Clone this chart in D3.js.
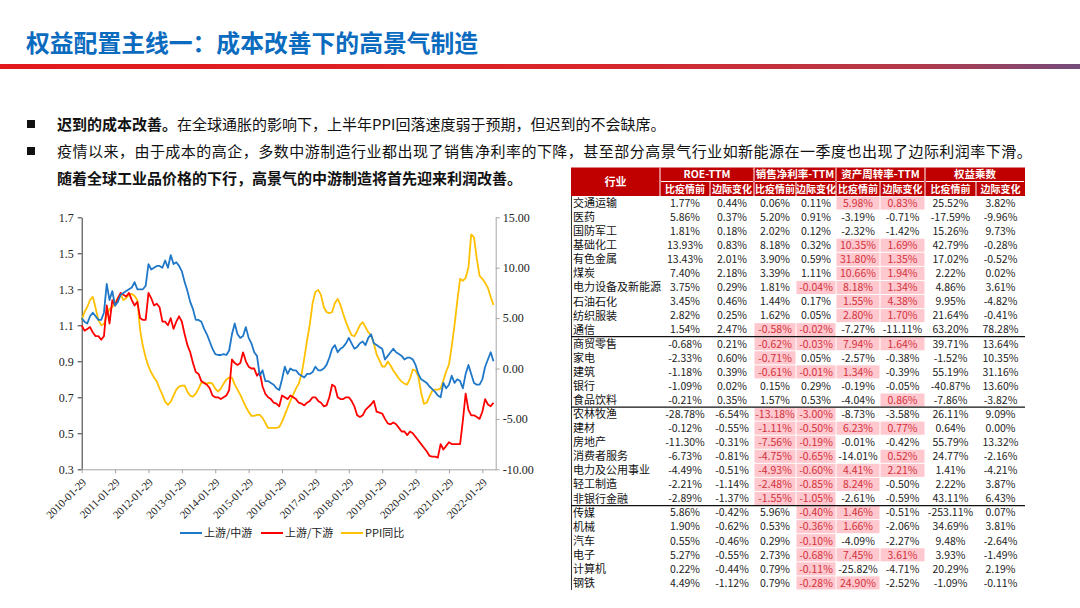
<!DOCTYPE html>
<html><head><meta charset="utf-8">
<script src="https://cdn.jsdelivr.net/npm/d3@7"></script>
<style>body{margin:0;background:#fff}svg{display:block}</style>
</head><body>
<svg id="c" width="1080" height="608"></svg>
<script>
// ---------- DATA ----------
const titleText = "权益配置主线一：成本改善下的高景气制造";
const xTickLabels = ["2010-01-29","2011-01-29","2012-01-29","2013-01-29","2014-01-29","2015-01-29","2016-01-29","2017-01-29","2018-01-29","2019-01-29","2020-01-29","2021-01-29","2022-01-29"];
const leftTicks = [0.3,0.5,0.7,0.9,1.1,1.3,1.5,1.7];
const rightTicks = [-10,-5,0,5,10,15];
const seriesNames = ["上游/中游","上游/下游","PPI同比"];
const upMid = [
 1.14,1.12,1.11,1.15,1.17,1.15,1.13,1.13,1.17,1.33,1.24,1.29,
 1.21,1.23,1.27,1.28,1.29,1.30,1.31,1.34,1.30,1.30,1.30,1.32,
 1.44,1.41,1.42,1.43,1.43,1.42,1.46,1.42,1.49,1.44,1.45,1.43,
 1.40,1.34,1.29,1.23,1.19,1.13,1.13,1.12,1.08,1.05,1.01,0.97,
 0.94,0.935,0.935,0.94,0.935,0.96,1.05,1.11,1.05,1.03,1.04,1.09,
 1.03,1.00,0.95,0.93,0.82,0.85,0.79,0.79,0.78,0.77,0.75,0.74,
 0.80,0.87,0.83,0.86,0.85,0.85,0.83,0.82,0.81,0.83,0.83,0.84,
 0.87,0.85,0.85,0.86,0.88,0.92,0.97,0.99,0.95,0.97,0.98,1.00,
 1.03,1.00,0.97,0.98,1.00,1.01,0.99,1.03,1.05,1.00,0.99,0.98,
 0.97,0.91,0.93,0.95,0.97,0.95,0.94,0.93,0.91,0.92,0.92,0.91,
 0.88,0.83,0.80,0.79,0.78,0.76,0.745,0.73,0.71,0.70,0.78,0.75,
 0.77,0.82,0.78,0.80,0.79,0.75,0.83,0.88,0.83,0.78,0.77,0.77,
 0.80,0.87,0.91,0.95,0.90];
const upDown = [
 1.10,1.07,1.08,1.09,1.06,1.04,1.04,1.02,1.04,1.21,1.11,1.24,
 1.21,1.25,1.28,1.27,1.26,1.28,1.24,1.21,1.23,1.14,1.13,1.13,
 1.28,1.25,1.21,1.22,1.20,1.12,1.12,1.10,1.14,1.08,1.12,1.15,
 1.12,1.05,0.99,0.95,0.89,0.84,0.83,0.79,0.78,0.77,0.75,0.71,
 0.70,0.70,0.69,0.70,0.71,0.74,0.91,0.89,0.88,0.89,0.95,0.90,
 0.87,0.86,0.86,0.82,0.84,0.76,0.72,0.70,0.69,0.67,0.665,0.65,
 0.71,0.70,0.69,0.71,0.70,0.69,0.67,0.665,0.655,0.67,0.68,0.70,
 0.70,0.68,0.67,0.65,0.655,0.70,0.77,0.76,0.70,0.69,0.69,0.70,
 0.70,0.68,0.65,0.60,0.59,0.60,0.63,0.645,0.66,0.68,0.62,0.615,
 0.61,0.58,0.555,0.55,0.56,0.55,0.53,0.51,0.51,0.49,0.51,0.50,
 0.48,0.46,0.44,0.42,0.40,0.375,0.37,0.37,0.365,0.44,0.41,0.43,
 0.45,0.44,0.44,0.44,0.44,0.57,0.72,0.63,0.60,0.60,0.59,0.58,
 0.62,0.69,0.66,0.65,0.67];
const ppi = [
 4.8,5.6,6.1,6.8,7.1,6.0,4.8,4.3,4.4,5.3,5.9,6.1,
 6.5,7.0,7.3,6.8,7.0,7.3,7.4,7.2,6.8,3.8,2.2,1.1,
 0.2,-0.4,-0.9,-1.3,-2.0,-2.6,-3.3,-3.6,-3.3,-2.7,-2.1,-1.8,
 -1.7,-1.7,-2.3,-2.7,-2.8,-2.5,-2.0,-1.4,-1.4,-1.5,-1.4,-1.5,
 -2.0,-2.3,-2.0,-1.5,-1.1,-0.9,-0.9,-1.6,-2.1,-2.6,-3.2,-3.8,
 -4.3,-4.7,-4.7,-4.6,-4.6,-4.9,-5.4,-5.9,-5.9,-5.9,-5.9,-5.8,
 -5.3,-4.6,-3.9,-3.2,-2.6,-2.0,-1.5,-0.6,1.0,2.8,4.4,6.5,
 7.6,7.8,7.3,6.1,5.6,5.5,5.6,6.5,6.9,6.3,5.4,4.6,
 3.9,3.3,3.2,3.7,4.3,4.6,4.1,3.6,3.3,2.5,1.4,0.8,
 0.2,0.2,0.7,0.3,-0.2,-0.6,-1.0,-1.3,-1.5,-1.6,-1.0,-0.1,
 -0.2,-0.8,-2.4,-3.5,-3.4,-2.8,-2.2,-2.1,-2.1,-2.0,-1.2,-0.3,
 0.4,2.2,4.3,6.7,8.9,8.7,9.0,10.0,13.3,13.0,10.9,9.2,
 8.9,8.5,8.0,7.1,6.3];

const industries = ["交通运输","医药","国防军工","基础化工","有色金属","煤炭","电力设备及新能源","石油石化","纺织服装","通信","商贸零售","家电","建筑","银行","食品饮料","农林牧渔","建材","房地产","消费者服务","电力及公用事业","轻工制造","非银行金融","传媒","机械","汽车","电子","计算机","钢铁"];
const groupEnds = [9,14,21];
const roePre = [1.77,5.86,1.81,13.93,13.43,7.40,3.75,3.45,2.82,1.54,-0.68,-2.33,-1.18,-1.09,-0.21,-28.78,-0.12,-11.30,-6.73,-4.49,-2.21,-2.89,5.86,1.90,0.55,5.27,0.22,4.49];
const roeChg = [0.44,0.37,0.18,0.83,2.01,2.18,0.29,0.46,0.25,2.47,0.21,0.60,0.39,0.02,0.35,-6.54,-0.55,-0.31,-0.81,-0.51,-1.14,-1.37,-0.42,-0.62,-0.46,-0.55,-0.44,-1.12];
const npmPre = [0.06,5.20,2.02,8.18,3.90,3.39,1.81,1.44,1.62,-0.58,-0.62,-0.71,-0.61,0.15,1.57,-13.18,-1.11,-7.56,-4.75,-4.93,-2.48,-1.55,5.96,0.53,0.29,2.73,0.79,0.79];
const npmChg = [0.11,0.91,0.12,0.32,0.59,1.11,-0.04,0.17,0.05,-0.02,-0.03,0.05,-0.01,0.29,0.53,-3.00,-0.50,-0.19,-0.65,-0.60,-0.85,-1.05,-0.40,-0.36,-0.10,-0.68,-0.11,-0.28];
const atoPre = [5.98,-3.19,-2.32,10.35,31.80,10.66,8.18,1.55,2.80,-7.27,7.94,-2.57,1.34,-0.19,-4.04,-8.73,6.23,-0.01,-14.01,4.41,8.24,-2.61,1.46,1.66,-4.09,7.45,-25.82,24.90];
const atoChg = [0.83,-0.71,-1.42,1.69,1.35,1.94,1.34,4.38,1.70,-11.11,1.64,-0.38,-0.39,-0.05,0.86,-3.58,0.77,-0.42,0.52,2.21,-0.50,-0.59,-0.51,-2.06,-2.27,3.61,-4.71,-2.52];
const emPre = [25.52,-17.59,15.26,42.79,17.02,2.22,4.86,9.95,21.64,63.20,39.71,-1.52,55.19,-40.87,-7.86,26.11,0.64,55.79,24.77,1.41,2.22,43.11,-253.11,34.69,9.48,3.93,20.29,-1.09];
const emChg = [3.82,-9.96,9.73,-0.28,-0.52,0.02,3.61,-4.82,-0.41,78.28,13.64,10.35,31.16,13.60,-3.82,9.09,0.00,13.32,-2.16,-4.21,3.87,6.43,0.07,3.81,-2.64,-1.49,2.19,-0.11];
const groupHeaders = ["ROE-TTM","销售净利率-TTM","资产周转率-TTM","权益乘数"];
const subHeaders = ["比疫情前","边际变化"];

// ---------- DRAW ----------
const svg = d3.select("#c");
const CJK = "'Noto Sans CJK SC','Noto Sans',sans-serif";
const SERIF = "'Liberation Serif','DejaVu Serif',serif";

// title
svg.append("text").attr("x",26).attr("y",52).text(titleText)
  .attr("font-family",CJK).attr("font-size",23.8).attr("font-weight",700).attr("fill","#0b6bbf");
const grad = svg.append("defs").append("linearGradient").attr("id","bar");
grad.append("stop").attr("offset","0").attr("stop-color","#e3191c");
grad.append("stop").attr("offset","0.55").attr("stop-color","#d8262b");
grad.append("stop").attr("offset","0.85").attr("stop-color","#b23a4a");
grad.append("stop").attr("offset","1").attr("stop-color","#744c7c");
svg.append("rect").attr("x",0).attr("y",64).attr("width",1080).attr("height",5).attr("fill","url(#bar)");

// bullets
const bl = svg.append("g").attr("font-family",CJK).attr("font-size",15).attr("fill","#111");
[124,151].forEach(y=>bl.append("rect").attr("x",27).attr("y",y-4).attr("width",8).attr("height",8).attr("fill","#111"));
const t1 = bl.append("text").attr("x",57).attr("y",129.5);
t1.append("tspan").attr("font-weight",700).text("迟到的成本改善。");
t1.append("tspan").text("在全球通胀的影响下，上半年PPI回落速度弱于预期，但迟到的不会缺席。");
bl.append("text").attr("x",57).attr("y",156.5).attr("letter-spacing",0.48).text("疫情以来，由于成本的高企，多数中游制造行业都出现了销售净利率的下降，甚至部分高景气行业如新能源在一季度也出现了边际利润率下滑。");
bl.append("text").attr("x",57).attr("y",183.5).attr("font-weight",700).text("随着全球工业品价格的下行，高景气的中游制造将首先迎来利润改善。");

// chart
const X0=81.7, X1=495.7, Y0=217.3, Y1=469.3;
const x = d3.scaleLinear().domain([0, 148.8]).range([X0, X1]);
const yL = d3.scaleLinear().domain([0.3,1.7]).range([Y1,Y0]);
const yR = d3.scaleLinear().domain([-10,15]).range([Y1,Y0]);
const ch = svg.append("g");

const axL = ch.append("g").attr("transform",`translate(${X0},0)`)
  .call(d3.axisLeft(yL).tickValues(leftTicks).tickFormat(d3.format(".1f")).tickSize(4).tickSizeOuter(0));
axL.select(".domain").attr("stroke","#333");
axL.selectAll(".tick line").attr("stroke","#333");
axL.selectAll("text").attr("font-family",SERIF).attr("font-size",12).attr("fill","#222").attr("x",-8);

const axR = ch.append("g").attr("transform",`translate(${X1},0)`)
  .call(d3.axisRight(yR).tickValues(rightTicks).tickFormat(d3.format(".2f")).tickSize(4).tickSizeOuter(0));
axR.select(".domain").attr("stroke","#a6a6a6");
axR.selectAll(".tick line").attr("stroke","#a6a6a6");
axR.selectAll("text").attr("font-family",SERIF).attr("font-size",12).attr("fill","#222").attr("x",7)
  .text(d=>d3.format(".2f")(d).replace("−","-"));

const tickIdx = xTickLabels.map((_,i)=>i*12);
const axB = ch.append("g").attr("transform",`translate(0,${Y1})`)
  .call(d3.axisBottom(x).tickValues(tickIdx).tickFormat((d,i)=>xTickLabels[i]).tickSize(4).tickSizeOuter(0));
axB.select(".domain").attr("stroke","#a6a6a6");
axB.selectAll(".tick line").attr("stroke","#a6a6a6");
axB.selectAll("text").attr("font-family",SERIF).attr("font-size",11).attr("fill","#222")
  .attr("text-anchor","end").attr("y",0).attr("dy","0.35em")
  .attr("transform","translate(2,11) rotate(-45)");

const colors = ["#1f77c8","#ff0000","#ffc000"];
const lineL = d3.line().x((d,i)=>x(i)).y(d=>yL(d));
const lineR = d3.line().x((d,i)=>x(i)).y(d=>yR(d));
ch.append("path").datum(ppi).attr("d",lineR).attr("fill","none").attr("stroke",colors[2]).attr("stroke-width",1.8).attr("stroke-linejoin","round");
ch.append("path").datum(upDown).attr("d",lineL).attr("fill","none").attr("stroke",colors[1]).attr("stroke-width",1.8).attr("stroke-linejoin","round");
ch.append("path").datum(upMid).attr("d",lineL).attr("fill","none").attr("stroke",colors[0]).attr("stroke-width",1.8).attr("stroke-linejoin","round");

// legend
const legX = [180,261,341];
const lg = svg.append("g");
seriesNames.forEach((s,i)=>{
  lg.append("line").attr("x1",legX[i]).attr("x2",legX[i]+22).attr("y1",533).attr("y2",533).attr("stroke",colors[i]).attr("stroke-width",2);
  lg.append("text").attr("x",legX[i]+24).attr("y",537).text(s).attr("font-family",CJK).attr("font-size",11).attr("fill","#222");
});

// table
const colX = [571,660,710,754,796,836,880,925,976,1025];
const hTop=167.5, hMid=181.5, hBot=196, rowH=14.07;
const tb = svg.append("g").attr("font-family",CJK);
tb.append("rect").attr("x",colX[0]).attr("y",hTop).attr("width",colX[9]-colX[0]).attr("height",hBot-hTop).attr("fill","#c00000");
for(let g=0; g<4; g++){
  const xa = colX[1+g*2], xb = colX[3+g*2];
  if(g>0) tb.append("line").attr("x1",xa).attr("x2",xa).attr("y1",hTop).attr("y2",hBot).attr("stroke","#fff").attr("stroke-width",1);
  tb.append("line").attr("x1",xa+1).attr("x2",xb-1).attr("y1",hMid).attr("y2",hMid).attr("stroke","#fff").attr("stroke-width",1);
  tb.append("line").attr("x1",colX[2+g*2]).attr("x2",colX[2+g*2]).attr("y1",hMid).attr("y2",hBot).attr("stroke","#fff").attr("stroke-width",1);
  tb.append("text").attr("x",(xa+xb)/2).attr("y",hMid-3.5).attr("text-anchor","middle").text(groupHeaders[g])
    .attr("font-size",10.5).attr("font-weight",700).attr("fill","#fff");
  subHeaders.forEach((s,k)=>{
    const c0 = colX[1+g*2+k], c1 = colX[2+g*2+k];
    tb.append("text").attr("x",(c0+c1)/2).attr("y",hBot-3.5).attr("text-anchor","middle").text(s)
      .attr("font-size",10).attr("font-weight",700).attr("fill","#fff");
  });
}
tb.append("line").attr("x1",colX[1]).attr("x2",colX[1]).attr("y1",hTop).attr("y2",hBot).attr("stroke","#fff");
tb.append("text").attr("x",(colX[0]+colX[1])/2).attr("y",(hTop+hBot)/2+4).attr("text-anchor","middle").text("行业")
  .attr("font-size",11).attr("font-weight",700).attr("fill","#fff");

const cols = [roePre,roeChg,npmPre,npmChg,atoPre,atoChg,emPre,emChg];
const hl = (c,v)=> (c===2||c===3) ? v<0 : (c===4||c===5) ? v>0 : false;
const fmt = v => d3.format(".2f")(v).replace("−","-") + "%";
const rows = tb.selectAll("g.row").data(industries).join("g").attr("class","row")
  .attr("transform",(d,i)=>`translate(0,${hBot+i*rowH})`);
rows.append("text").attr("x",colX[0]+2).attr("y",rowH/2+4).text(d=>d).attr("font-size",11).attr("fill","#111");
rows.each(function(d,i){
  const g = d3.select(this);
  cols.forEach((arr,c)=>{
    const v = arr[i], on = hl(c,v);
    if(on) g.append("rect").attr("x",colX[c+1]+0.5).attr("y",0.5).attr("width",colX[c+2]-colX[c+1]-1).attr("height",rowH-1).attr("fill","#ffc7ce");
    g.append("text").attr("x",(colX[c+1]+colX[c+2])/2).attr("y",rowH/2+3.8).attr("text-anchor","middle")
      .text(fmt(v)).attr("font-size",10.5).attr("fill",on?"#d2313a":"#222");
  });
});
tb.append("line").attr("x1",colX[0]+0.5).attr("x2",colX[0]+0.5).attr("y1",hBot).attr("y2",hBot+industries.length*rowH).attr("stroke","#333");
groupEnds.forEach(k=>{
  const yy = hBot+(k+1)*rowH;
  tb.append("line").attr("x1",colX[0]).attr("x2",colX[9]).attr("y1",yy).attr("y2",yy).attr("stroke","#111").attr("stroke-width",1.2);
});
</script>
</body></html>
